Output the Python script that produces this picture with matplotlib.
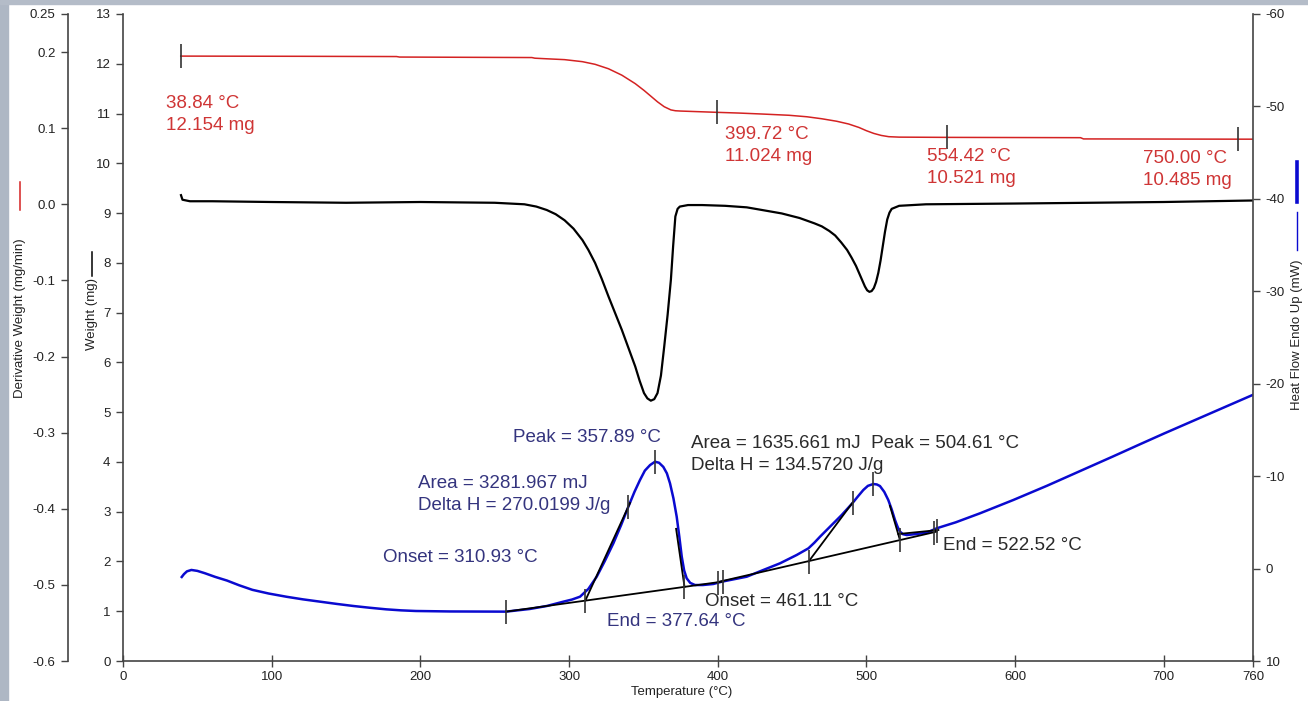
import numpy as np
import matplotlib
matplotlib.use("Agg")
import matplotlib.pyplot as plt
from matplotlib.lines import Line2D
from matplotlib.patches import Rectangle

plt.rcParams['font.family'] = ['Liberation Sans', 'DejaVu Sans']
plt.rcParams['axes.unicode_minus'] = False

W_PX, H_PX = 1308, 701

# --- weight (red, mg) ---
temp_w = [38.84, 120, 184, 186, 275, 277, 285, 297, 309, 317.5, 326.5, 335.5, 344.5, 350.4,
          355, 359.5, 364, 368.5, 371.5, 375, 399.72, 414, 430, 448, 460, 470, 480, 488,
          495, 500, 505, 510, 515, 522, 554.42, 644, 646, 750, 760]
weight = [12.154, 12.15, 12.145, 12.135, 12.125, 12.112, 12.10, 12.083, 12.042, 11.989, 11.90,
          11.771, 11.601, 11.465, 11.349, 11.235, 11.137, 11.073, 11.056, 11.05, 11.024, 11.01,
          10.99, 10.965, 10.935, 10.895, 10.845, 10.79, 10.72, 10.655, 10.60, 10.56, 10.535,
          10.526, 10.521, 10.515, 10.49, 10.485, 10.485]
weight_mark_t = [38.84, 399.72, 554.42, 750.00]
weight_mark_w = [12.154, 11.024, 10.521, 10.485]

# --- derivative weight (black, mg/min) ---
temp_d = [39, 40, 45, 60, 100, 150, 200, 250, 270, 278, 285, 291, 297, 303, 309, 313, 317.5,
          322, 326.5, 331, 335.5, 340, 344.5, 347.5, 350.4, 352.7, 355, 357.3, 359.5, 361.8,
          364, 366.3, 368.5, 370, 371.5, 373, 374.5, 380, 389.5, 405, 419.5, 443, 455, 465,
          470, 475, 479, 483, 487, 490, 493, 495, 497, 499, 500.5, 502, 503.5, 505, 506.5,
          508, 509.5, 511, 512.5, 514, 515.5, 517, 522, 540, 600, 700, 760]
deriv = [0.012, 0.006, 0.004, 0.004, 0.003, 0.002, 0.003, 0.002, 0.0, -0.003, -0.0075, -0.013,
         -0.021, -0.032, -0.047, -0.06, -0.077, -0.098, -0.121, -0.143, -0.165, -0.189, -0.213,
         -0.232, -0.248, -0.255, -0.258, -0.256, -0.248, -0.225, -0.187, -0.145, -0.099,
         -0.055, -0.016, -0.006, -0.003, -0.001, -0.001, -0.002, -0.004, -0.012, -0.018,
         -0.025, -0.029, -0.035, -0.041, -0.05, -0.06, -0.07, -0.081, -0.09, -0.099, -0.108,
         -0.113, -0.115, -0.114, -0.11, -0.102, -0.09, -0.074, -0.055, -0.036, -0.02, -0.011,
         -0.006, -0.002, 0.0, 0.001, 0.003, 0.005]

# --- heat flow (blue, mW, endo up) ---
temp_h = [39.5, 41, 43, 46, 50, 55, 62, 70, 78, 87, 98, 110, 121, 132.5, 144, 155, 166, 177,
          187, 197, 220, 257.6, 273.7, 285, 296.2, 302, 307.4, 313, 318.6, 324, 329.8, 335,
          339.9, 344, 347.7, 351, 354.5, 357.8, 360.5, 363.4, 365.8, 367.9, 370.2, 372.4,
          374.2, 375.8, 377.4, 379.1, 381.5, 384.7, 390, 397, 402.7, 419.5, 430.7, 441.9,
          453.1, 461, 465, 468.8, 475.5, 483.4, 490.5, 494.5, 497.9, 501, 504.6, 507, 509.1,
          512, 514.7, 517, 519.2, 521, 522.6, 524.5, 527.1, 533.8, 540.5, 547.3, 560, 576.4,
          598.8, 621.3, 643.7, 666.1, 684, 700, 720, 740, 760]
heat = [0.91, 0.6, 0.3, 0.15, 0.25, 0.5, 0.9, 1.3, 1.8, 2.3, 2.7, 3.05, 3.33, 3.58, 3.83, 4.05,
        4.24, 4.41, 4.52, 4.59, 4.64, 4.66, 4.37, 4.05, 3.58, 3.35, 3.04, 2.2, 0.88, -0.8, -2.73,
        -4.7, -6.70, -8.3, -9.58, -10.6, -11.2, -11.56, -11.45, -11.0, -10.3, -9.22, -7.6,
        -5.61, -3.4, -1.29, 0.2, 1.05, 1.55, 1.78, 1.78, 1.67, 1.42, 0.88, 0.15, -0.57, -1.47,
        -2.19, -2.8, -3.45, -4.53, -5.80, -7.06, -7.85, -8.50, -8.95, -9.15, -9.1, -8.93, -8.3,
        -7.42, -6.4, -5.26, -4.5, -4.0, -3.72, -3.63, -3.74, -3.88, -4.36, -5.0, -5.98, -7.42,
        -8.95, -10.55, -12.15, -13.45, -14.6, -16.0, -17.4, -18.8]

# analysis construction lines (temperature pairs, heat flow pairs)
constr_t = [[257.6, 403.6], [310.93, 341.0], [377.64, 372.0], [400.3, 547.3],
            [461.11, 491.2], [522.52, 515.8], [521.5, 548.4]]
constr_h = [[4.66, 1.40], [3.47, -7.1], [1.97, -4.3], [1.45, -4.0],
            [-0.76, -7.24], [-3.1, -6.8], [-3.74, -4.17]]
hf_mark_t = [257.6, 310.93, 339.9, 357.89, 377.64, 400.3, 403.6, 461.11, 491.0, 504.61,
             522.52, 545.5, 547.5]
hf_mark_h = [4.66, 3.47, -6.7, -11.56, 1.97, 1.55, 1.40, -0.76, -7.1, -9.15, -3.1, -3.9, -4.1]

x_ticks = [0, 100, 200, 300, 400, 500, 600, 700, 760]
w_ticks = list(range(0, 14))
d_ticks = [0.25, 0.2, 0.1, 0.0, -0.1, -0.2, -0.3, -0.4, -0.5, -0.6]
d_labels = ['0.25', '0.2', '0.1', '0.0', '-0.1', '-0.2', '-0.3', '-0.4', '-0.5', '-0.6']
h_ticks = [-60, -50, -40, -30, -20, -10, 0, 10]

RED = '#d42222'
RED_TXT = '#cf3535'
BLUE = '#0a0ad0'
NAVY = '#34347e'
DARK = '#2a2a2a'
SPINE = '#444444'


def fxy(x, y):
    return x / W_PX, 1 - y / H_PX


fig = plt.figure(figsize=(13.08, 7.01), dpi=100)
fig.patches.append(Rectangle((0, 0), 8 / W_PX, 1, transform=fig.transFigure,
                             color='#aeb7c4', zorder=0))
fig.patches.append(Rectangle((0, 1 - 4 / H_PX), 1, 4 / H_PX, transform=fig.transFigure,
                             color='#b4bcc8', zorder=0))

ax_w = fig.add_axes([123 / W_PX, 1 - 661 / H_PX, 1130 / W_PX, 647 / H_PX])
ax_w.set_xlim(0, 760)
ax_w.set_ylim(0, 13)
ax_w.set_xticks(x_ticks)
ax_w.set_yticks(w_ticks)
for s in ['top', 'right']:
    ax_w.spines[s].set_visible(False)

ax_d = ax_w.twinx()
ax_d.set_ylim(-0.6, 0.25)
ax_d.set_yticks(d_ticks)
ax_d.set_yticklabels(d_labels)
ax_d.yaxis.tick_left()
ax_d.spines['left'].set_position(('axes', -55 / 1130))
ax_d.spines['left'].set_visible(True)
for s in ['top', 'right', 'bottom']:
    ax_d.spines[s].set_visible(False)

ax_h = ax_w.twinx()
ax_h.set_ylim(10, -60)
ax_h.set_yticks(h_ticks)
for s in ['top', 'left', 'bottom']:
    ax_h.spines[s].set_visible(False)

for a in (ax_w, ax_d, ax_h):
    for s in a.spines.values():
        s.set_color(SPINE)
        s.set_linewidth(1.2)
    a.tick_params(axis='y', direction='out', length=5, width=1, labelsize=9.5,
                  colors=SPINE, labelcolor='#222222', pad=4)
ax_w.tick_params(axis='x', direction='inout', length=8, width=1, labelsize=9.5,
                 colors=SPINE, labelcolor='#222222', pad=3)

# curves
ax_w.plot(temp_w, weight, color=RED, lw=1.1)
ax_w.plot(weight_mark_t, weight_mark_w, ls='none', marker='|', ms=17, mew=1.2, color='#333333')
ax_d.plot(temp_d, deriv, color='black', lw=1.6)
ax_h.plot(temp_h, heat, color=BLUE, lw=1.8)
for t, h in zip(constr_t, constr_h):
    ax_h.plot(t, h, color='black', lw=1.3)
ax_h.plot(hf_mark_t, hf_mark_h, ls='none', marker='|', ms=17, mew=1.2, color='#333333')

# weight annotations
red_notes = [(166, 108, '38.84 °C', '12.154 mg'),
             (725, 139, '399.72 °C', '11.024 mg'),
             (927, 161, '554.42 °C', '10.521 mg'),
             (1143, 163, '750.00 °C', '10.485 mg')]
for x, y, t1, t2 in red_notes:
    fig.text(*fxy(x, y), t1, color=RED_TXT, fontsize=13.5, va='baseline')
    fig.text(*fxy(x, y + 22), t2, color=RED_TXT, fontsize=13.5, va='baseline')

# heat flow annotations
notes = [(513, 437, 'Peak = 357.89 °C', NAVY),
         (418, 483, 'Area = 3281.967 mJ', NAVY),
         (418, 505, 'Delta H = 270.0199 J/g', NAVY),
         (383, 557, 'Onset = 310.93 °C', NAVY),
         (607, 621, 'End = 377.64 °C', NAVY),
         (691, 443, 'Area = 1635.661 mJ  Peak = 504.61 °C', DARK),
         (691, 465, 'Delta H = 134.5720 J/g', DARK),
         (705, 602, 'Onset = 461.11 °C', DARK),
         (943, 545, 'End = 522.52 °C', DARK)]
for x, y, s, c in notes:
    fig.text(*fxy(x, y), s, color=c, fontsize=13.5, va='center')

# axis titles
fig.text(*fxy(682, 692), 'Temperature (°C)', fontsize=9.5, color='#222222',
         ha='center', va='center')
fig.text(*fxy(20, 318), 'Derivative Weight (mg/min)', fontsize=9.5, color='#222222',
         rotation=90, ha='center', va='center')
fig.add_artist(Line2D([20 / W_PX] * 2, [1 - 210 / H_PX, 1 - 182 / H_PX], color=RED, lw=1.1))
fig.text(*fxy(92, 314), 'Weight (mg)', fontsize=9.5, color='#222222',
         rotation=90, ha='center', va='center')
fig.add_artist(Line2D([92 / W_PX] * 2, [1 - 276 / H_PX, 1 - 252 / H_PX], color='black', lw=1.1))
fig.text(*fxy(1297, 335), 'Heat Flow Endo Up (mW)', fontsize=9.5, color='#222222',
         rotation=90, ha='center', va='center')
fig.add_artist(Line2D([1297 / W_PX] * 2, [1 - 250 / H_PX, 1 - 212 / H_PX], color=BLUE, lw=1.0))
fig.add_artist(Line2D([1297 / W_PX] * 2, [1 - 202 / H_PX, 1 - 162 / H_PX], color=BLUE, lw=2.6))

fig.savefig('out.png', dpi=100)
